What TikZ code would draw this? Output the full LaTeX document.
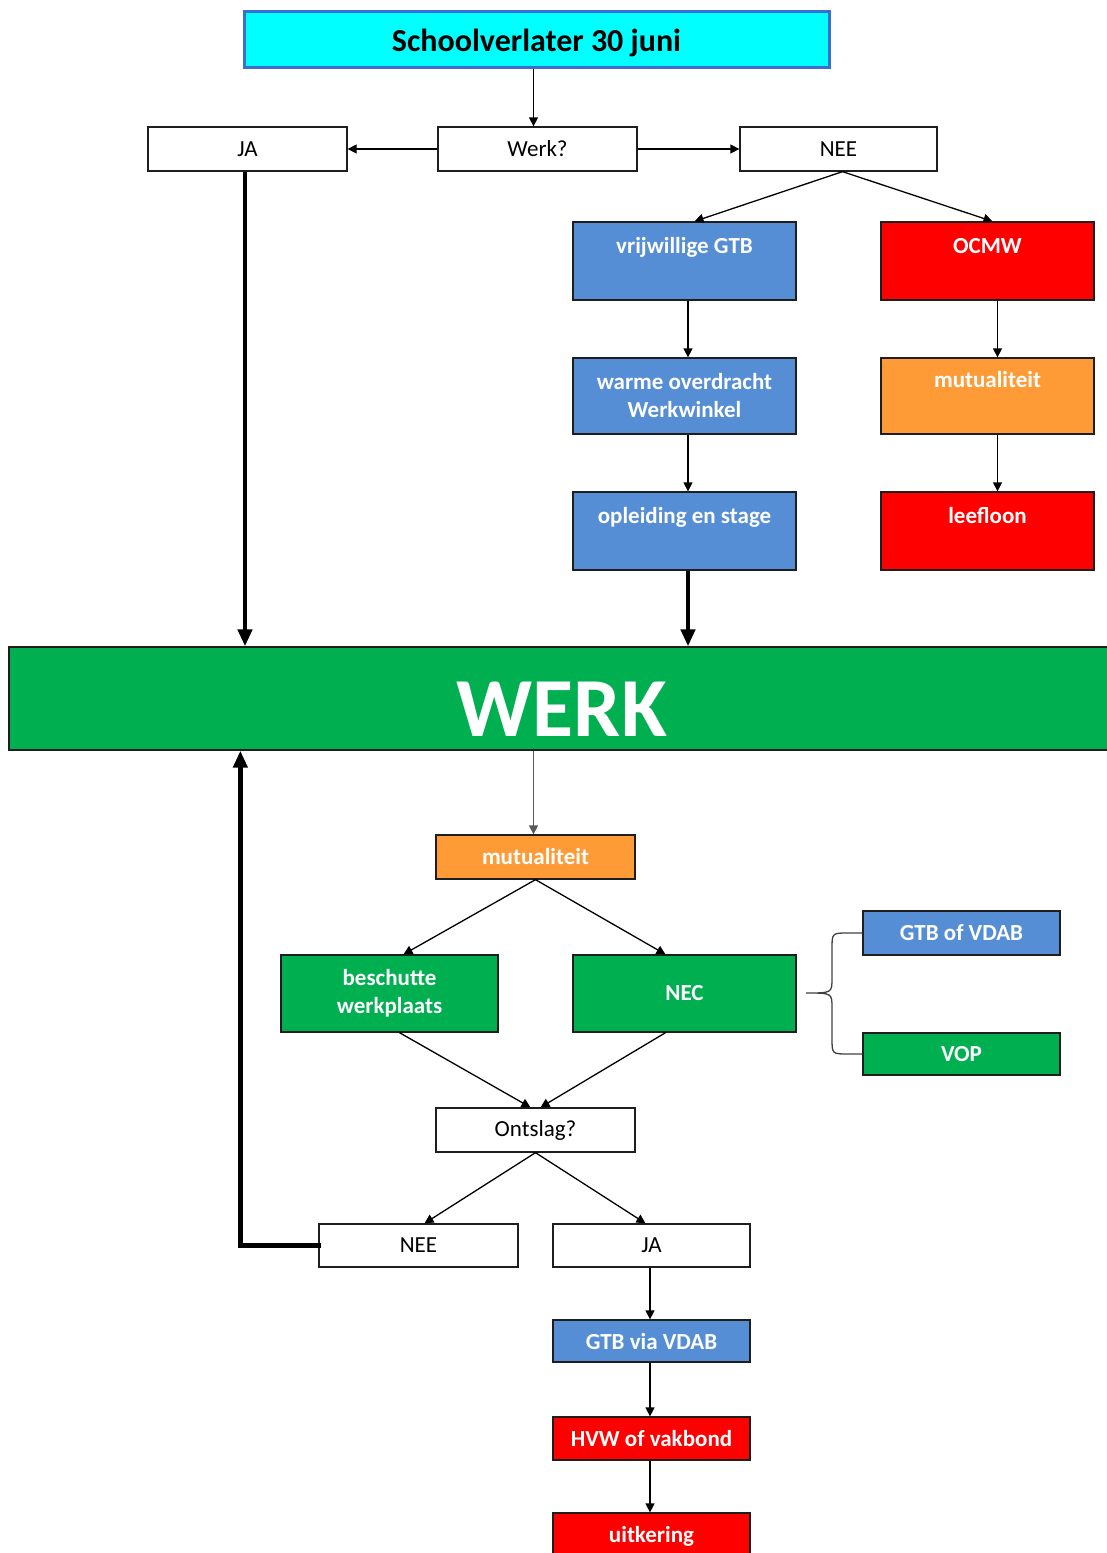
\documentclass[tikz,border=0pt]{standalone}
\usepackage{fontspec}
\setmainfont{Carlito}
\usetikzlibrary{arrows.meta}
\definecolor{cyanbox}{RGB}{0,255,255}
\definecolor{cyanborder}{RGB}{58,110,210}
\definecolor{bluebox}{RGB}{85,142,213}
\definecolor{redbox}{RGB}{255,0,0}
\definecolor{orangebox}{RGB}{255,155,55}
\definecolor{greenbox}{RGB}{0,176,80}
\definecolor{edge}{RGB}{30,30,30}
\begin{document}
\begin{tikzpicture}[x=1pt,y=-1pt,
  base/.style={rectangle,draw=edge,line width=1.3pt,inner sep=0pt,align=center},
  wbox/.style={base,fill=white,font=\fontsize{23}{27}\selectfont},
  cbox/.style={base,text=white,font=\bfseries\fontsize{23}{28}\selectfont},
  blue/.style={cbox,fill=bluebox},
  red/.style={cbox,fill=redbox},
  orange/.style={cbox,fill=orangebox},
  green/.style={cbox,fill=greenbox},
  sz/.style 2 args={minimum width=#1pt,minimum height=#2pt},
  toptext/.style 2 args={text height=#1pt,text depth=#2pt},
  thin/.style={line width=1.3pt,draw=black,-{Triangle[length=9pt,width=9pt]}},
  thinline/.style={line width=1.3pt,draw=black},
  thick/.style={line width=4.5pt,draw=black,-{Triangle[length=17pt,width=14pt]}}
]
\useasboundingbox (0,0) rectangle (1107,1553);
% top
\node[base,fill=cyanbox,draw=cyanborder,line width=3pt,sz={585}{56},toptext={40}{16},font=\bfseries\fontsize{32}{36}\selectfont] (sv) at (536.5,39) {Schoolverlater 30 juni};
\node[wbox,sz={199}{44}] (werkq) at (537.5,149) {Werk?};
\node[wbox,sz={199}{44}] (jat) at (247.5,149) {JA};
\node[wbox,sz={197}{44}] (neet) at (838.5,149) {NEE};
% left column (blue)
\node[blue,sz={223}{78},toptext={31}{47}] (vg) at (684.5,261) {vrijwillige GTB};
\node[blue,sz={223}{76}] (wo) at (684.5,396) {warme overdracht\\Werkwinkel};
\node[blue,sz={223}{78},toptext={31}{47}] (os) at (684.5,531) {opleiding en stage};
% right column
\node[red,sz={213}{78},toptext={31}{47}] (oc) at (987.5,261) {OCMW};
\node[orange,sz={213}{76},toptext={29}{47}] (mt) at (987.5,396) {mutualiteit};
\node[red,sz={213}{78},toptext={31}{47}] (lf) at (987.5,531) {leefloon};
% WERK
\node[base,fill=greenbox,text=white,sz={1106}{103},toptext={89}{14},font=\bfseries\fontsize{84}{90}\selectfont] (werk) at (562,698.5) {WERK};
% lower part
\node[orange,sz={199}{44}] (mb) at (535.5,857) {mutualiteit};
\node[green,sz={217}{77}] (bw) at (389.5,993.5) {beschutte\\werkplaats};
\node[green,sz={223}{77}] (nec) at (684.5,993.5) {NEC};
\node[blue,sz={197}{44}] (gv) at (961.5,933) {GTB of VDAB};
\node[green,sz={197}{42}] (vop) at (961.5,1054) {VOP};
\node[wbox,sz={199}{44}] (ont) at (535.5,1130) {Ontslag?};
\node[wbox,sz={199}{43}] (neeb) at (418.5,1245.5) {NEE};
\node[wbox,sz={197}{43}] (jab) at (651.5,1245.5) {JA};
\node[blue,sz={197}{42}] (gvv) at (651.5,1341) {GTB via VDAB};
\node[red,sz={197}{43}] (hvw) at (651.5,1438.5) {HVW of vakbond};
\node[red,sz={197}{46}] (uit) at (651.5,1536) {uitkering};
% connectors top
\draw[thin] ([xshift=-4pt]sv.south -| werkq.north) -- ([xshift=-4pt]werkq.north);
\draw[thin] (werkq.west) -- (jat.east);
\draw[thin] (werkq.east) -- (neet.west);
\draw[thin] ([xshift=4pt]neet.south) -- ([xshift=10pt]vg.north);
\draw[thin] ([xshift=4pt]neet.south) -- ([xshift=5pt]oc.north);
\draw[thin] ([xshift=3.5pt]vg.south) -- ([xshift=3.5pt]wo.north);
\draw[thin] ([xshift=3.5pt]wo.south) -- ([xshift=3.5pt]os.north);
\draw[thin] ([xshift=10pt]oc.south) -- ([xshift=10pt]mt.north);
\draw[thin] ([xshift=10pt]mt.south) -- ([xshift=10pt]lf.north);
\draw[thick] ([xshift=3.5pt]os.south) -- ([xshift=3.5pt]os.south |- werk.north);
\draw[thick] ([xshift=-2.5pt]jat.south) -- ([xshift=-2.5pt]jat.south |- werk.north);
% connectors lower
\draw[thin,draw=black!65] ([xshift=-2pt]werk.south -| mb.north) -- ([xshift=-2pt]mb.north);
\draw[thin] (mb.south) -- ([xshift=14pt]bw.north);
\draw[thin] (mb.south) -- ([xshift=-19pt]nec.north);
\draw[thin] ([xshift=10pt]bw.south) -- ([xshift=-5pt]ont.north);
\draw[thin] ([xshift=-19pt]nec.south) -- ([xshift=5pt]ont.north);
\draw[thin] (ont.south) -- ([xshift=6pt]neeb.north);
\draw[thin] (ont.south) -- ([xshift=-6pt]jab.north);
\draw[thin] ([xshift=-1.5pt]jab.south) -- ([xshift=-1.5pt]gvv.north);
\draw[thin] ([xshift=-1.5pt]gvv.south) -- ([xshift=-1.5pt]hvw.north);
\draw[thin] ([xshift=-1.5pt]hvw.south) -- ([xshift=-1.5pt]uit.north);
\draw[thick] ([xshift=3pt]neeb.west) -| ([xshift=232pt]werk.south west);
% brace
\coordinate (tip) at (806,993);
\draw[thinline,draw=black!75] (gv.west) -- (848,933) .. controls (832,933) .. (832,949)
  -- (832,978) .. controls (832,993) .. (tip)
  .. controls (832,993) .. (832,1008) -- (832,1038)
  .. controls (832,1054) .. (848,1054) -- (vop.west);
\end{tikzpicture}
\end{document}
